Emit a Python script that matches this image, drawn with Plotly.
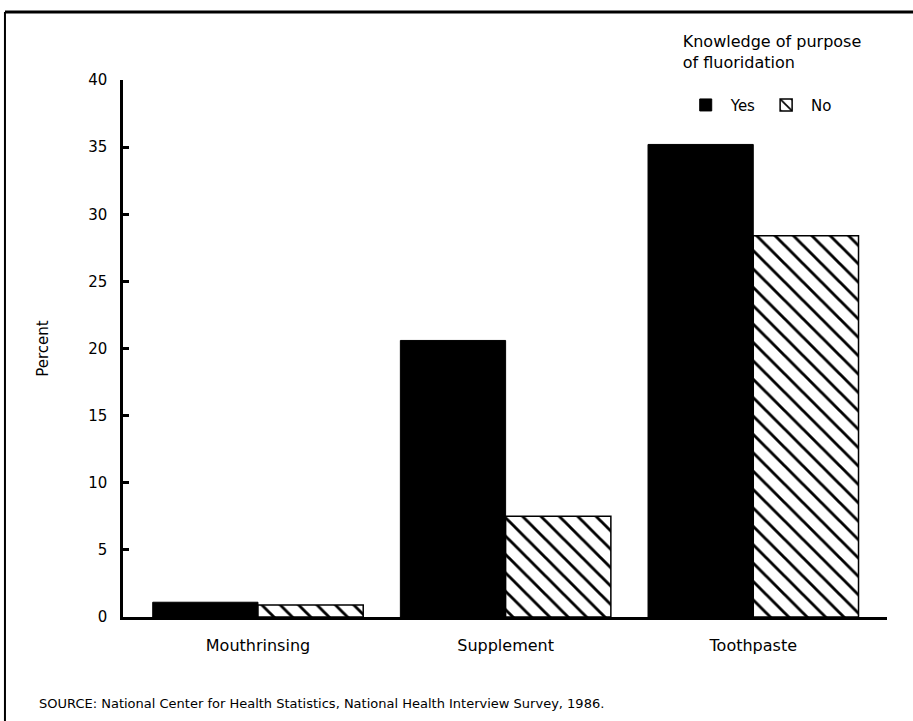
import plotly.graph_objects as go

# data
categorias = ["Mouthrinsing", "Supplement", "Toothpaste"]
pct_sim = [1.1, 20.6, 35.2]
pct_nao = [0.9, 7.5, 28.4]
ticks_y = [0, 5, 10, 15, 20, 25, 30, 35, 40]

fonte = "DejaVu Sans, Liberation Sans, Arial, sans-serif"

fig = go.Figure()

fig.add_trace(go.Bar(
    name="Yes", x=categorias, y=pct_sim,
    marker=dict(color="black", line=dict(color="black", width=1)),
))
fig.add_trace(go.Bar(
    name="No", x=categorias, y=pct_nao,
    marker=dict(
        color="white",
        line=dict(color="black", width=1.5),
        pattern=dict(shape="\\", fgcolor="black", bgcolor="white", fgopacity=1,
                     size=13, solidity=0.22),
    ),
))

fig.update_layout(
    width=913, height=721,
    margin=dict(l=123, r=26, t=80, b=104),
    paper_bgcolor="white", plot_bgcolor="white",
    font=dict(family=fonte, size=14, color="black"),
    barmode="group", bargap=0.15, bargroupgap=0,
    showlegend=True,
    legend=dict(
        title=dict(text="Knowledge of purpose<br>of fluoridation<br> ", side="top",
                   font=dict(size=16)),
        orientation="h", x=0.73, y=1.1, xanchor="left", yanchor="top",
        font=dict(size=15), bgcolor="rgba(0,0,0,0)", itemwidth=40,
        traceorder="normal",
    ),
)

fig.update_xaxes(
    range=[-0.545, 2.54], showgrid=False, zeroline=False,
    showline=True, linecolor="black", linewidth=3,
    ticks="", tickfont=dict(size=16), ticklabelstandoff=12,
)
fig.update_yaxes(
    range=[0, 40], tickvals=ticks_y, showgrid=False, zeroline=False,
    showline=True, linecolor="black", linewidth=2.5,
    ticks="inside", ticklen=6, tickwidth=2.5, tickcolor="black",
    tickfont=dict(size=15), ticklabelstandoff=10,
    title=dict(text="Percent", font=dict(size=15), standoff=36),
)

# moldura da figura (linha de cima e da esquerda)
fig.add_shape(type="line", xref="paper", yref="paper",
              x0=-0.1545, x1=1.04, y0=1.1266, y1=1.1266,
              line=dict(color="black", width=3))
fig.add_shape(type="line", xref="paper", yref="paper",
              x0=-0.1545, x1=-0.1545, y0=1.1266, y1=-0.2,
              line=dict(color="black", width=2))

fig.add_annotation(
    text="SOURCE: National Center for Health Statistics, National Health Interview Survey, 1986.",
    xref="paper", yref="paper", x=-0.113, y=-0.162, xanchor="left", yanchor="middle",
    showarrow=False, font=dict(size=13),
)

fig.write_html("out.html", config={"displayModeBar": False},
               post_script="document.body.style.margin='0';")
